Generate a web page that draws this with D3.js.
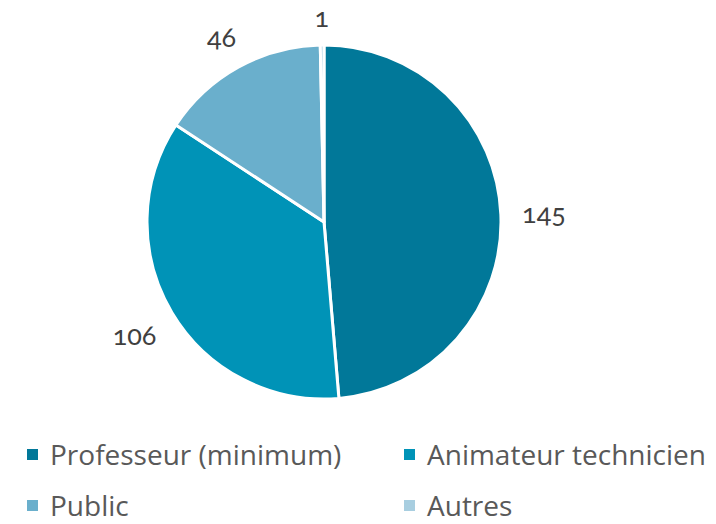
<!DOCTYPE html>
<html>
<head>
<meta charset="utf-8">
<script src="https://cdn.jsdelivr.net/npm/d3@7"></script>
<style>
  body { margin: 0; background: #fff; }
  svg text { font-family: Lato, "Open Sans", sans-serif; fill: #404040; font-variant-numeric: oldstyle-nums; }
  svg .legend text { font-family: "Open Sans", Lato, sans-serif; fill: #595959; }
</style>
</head>
<body>
<svg id="canvas" width="716" height="524"></svg>
<script>
const categories = ["Professeur (minimum)", "Animateur technicien", "Public", "Autres"];
const values = [145, 106, 46, 1];
const colors = ["#017899", "#0093b7", "#6aafcc", "#a8cee0"];

const svg = d3.select("#canvas");
const cx = 324, cy = 222, radius = 177;

const pie = d3.pie().sort(null).value(d => d.value);
const arcs = pie(categories.map((c, i) => ({ name: c, value: values[i], color: colors[i] })));
const arc = d3.arc().innerRadius(0).outerRadius(radius);

const g = svg.append("g").attr("transform", `translate(${cx},${cy})`);

g.selectAll("path.slice")
    .data(arcs)
    .join("path")
    .attr("class", "slice")
    .attr("d", arc)
    .attr("fill", d => d.data.color)
    .attr("stroke", "#fff")
    .attr("stroke-width", 3)
    .attr("stroke-linejoin", "round");

// labels outside end, pushed out by half the box size
const labels = g.selectAll("text.lbl")
    .data(arcs)
    .join("text")
    .attr("class", "lbl")
    .attr("text-anchor", "middle")
    .attr("dominant-baseline", "central")
    .style("font-size", "27px")
    .text(d => d.data.value);

labels.each(function(d) {
    const bb = this.getBBox();
    const a = (d.startAngle + d.endAngle) / 2;
    const s = Math.sin(a), c = -Math.cos(a);
    const r = radius + 21 + Math.abs(s) * bb.width / 2 + Math.abs(c) * bb.height / 2 * 0.45;
    d3.select(this).attr("x", s * r).attr("y", c * r);
});

// legend
const legendX = d3.scalePoint().domain([0, 1]).range([27, 404]);
const legendY = d3.scalePoint().domain([0, 1]).range([465, 516]);

const legend = svg.selectAll("g.legend")
    .data(categories)
    .join("g")
    .attr("class", "legend")
    .attr("transform", (d, i) => `translate(${legendX(i % 2)},${legendY(Math.floor(i / 2))})`);

legend.append("rect")
    .attr("x", 0).attr("y", -16)
    .attr("width", 11).attr("height", 11)
    .attr("fill", (d, i) => colors[i]);

legend.append("text")
    .attr("x", 23)
    .style("font-size", "28px")
    .text(d => d);
</script>
</body>
</html>
